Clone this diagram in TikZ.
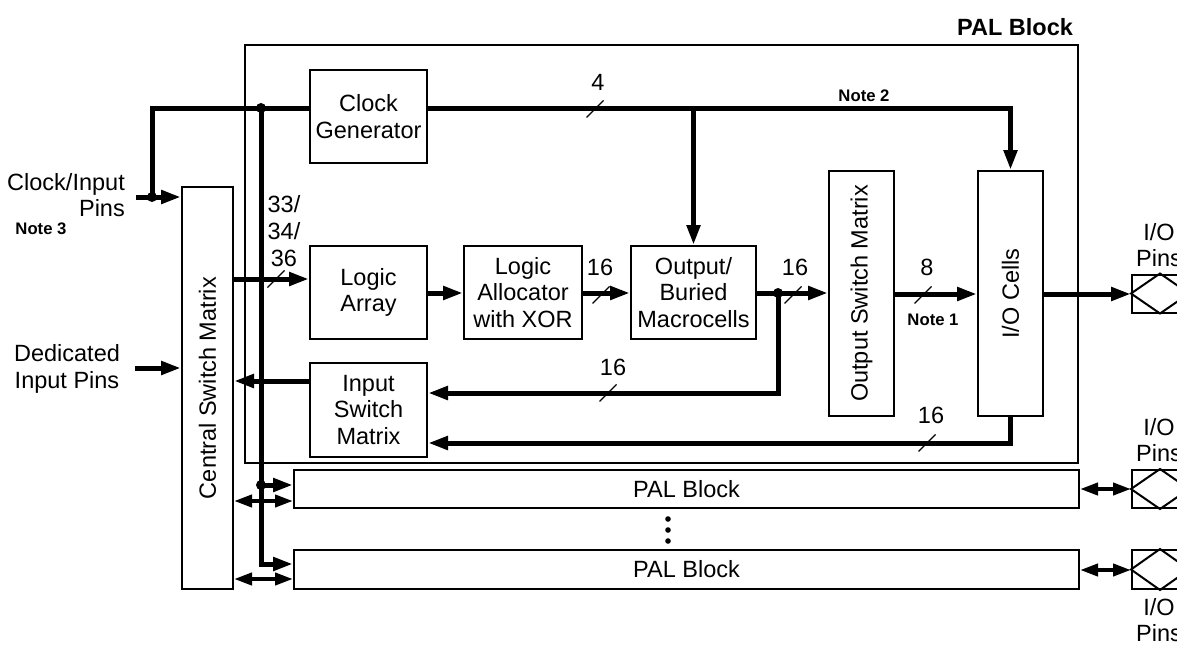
\documentclass[tikz,border=0pt]{standalone}
\usepackage{fontspec}
\setmainfont{Liberation Sans}
\usetikzlibrary{arrows.meta}
\newcommand\mainfnt{\fontsize{23.5}{26.7}\selectfont}
\newcommand\notefnt{\fontsize{16.7}{19}\selectfont\bfseries}
\tikzset{
 box/.style={draw, line width=2pt, inner sep=0pt, align=center, font=\mainfnt},
 bus/.style={line width=5pt},
 dbus/.style={line width=4pt},
 arr/.style={-{Triangle[length=20pt,width=13pt]}},
 darr/.style={{Triangle[length=18pt,width=12pt]}-{Triangle[length=18pt,width=12pt]}},
 slash/.style={line width=1.2pt},
 lbl/.style={font=\mainfnt, inner sep=0pt, align=center},
 note/.style={font=\notefnt, inner sep=0pt},
}
\begin{document}
\begin{tikzpicture}[x=1pt,y=-1pt]
\clip (0,0) rectangle (1177,645);
% outer PAL block
\node[draw, line width=2pt, minimum width=833pt, minimum height=418pt, inner sep=0pt] (pal) at (661.5,254) {};
\node[lbl, font=\mainfnt\bfseries] (paltitle) at (1015,27) {PAL Block};
% boxes
\node[box, minimum width=117pt, minimum height=93pt] (clk) at (368.5,116.5) {Clock\\Generator};
\node[box, minimum width=51pt, minimum height=402pt] (csm) at (207.5,388) {\rotatebox{90}{Central Switch Matrix}};
\node[box, minimum width=117pt, minimum height=93pt] (la) at (368.5,292.5) {Logic\\Array};
\node[box, minimum width=118pt, minimum height=93pt] (lal) at (523,292.5) {Logic\\Allocator\\with XOR};
\node[box, minimum width=125pt, minimum height=93pt] (obm) at (693.5,292.5) {Output/\\Buried\\Macrocells};
\node[box, minimum width=65pt, minimum height=245pt] (osm) at (861.5,293.5) {\rotatebox{90}{Output Switch Matrix}};
\node[box, minimum width=65pt, minimum height=245pt] (ioc) at (1010.5,293.5) {\rotatebox{90}{I/O Cells}};
\node[box, minimum width=117pt, minimum height=94pt] (ism) at (368.5,410) {Input\\Switch\\Matrix};
\node[box, minimum width=785pt, minimum height=38pt] (pal1) at (686.5,489) {PAL Block};
\node[box, minimum width=785pt, minimum height=39pt] (pal2) at (686.5,569.5) {PAL Block};
% pins
\node[box, minimum width=56pt, minimum height=38pt] (pin1) at (1160,293.5) {};
\node[box, minimum width=56pt, minimum height=38pt] (pin2) at (1160,489) {};
\node[box, minimum width=56pt, minimum height=39pt] (pin3) at (1160,569.5) {};
\foreach \p in {pin1,pin2,pin3}
  \draw[line width=2pt] (\p.west) -- (\p.north) -- (\p.east) -- (\p.south) -- cycle;
% level coordinates
\coordinate (y279) at (0,279);
\coordinate (y293) at (0,293);
\coordinate (y294) at (0,294);
\coordinate (y381) at (0,381);
\coordinate (y443) at (0,443);
\coordinate (y501) at (0,501);
\coordinate (y579) at (0,579);
\coordinate (y489) at (0,489);
\coordinate (y570) at (0,570);
% clock / input pins
\coordinate (ci) at (136,197);
\coordinate (j1) at (152,197);
\coordinate (jt) at (261,108);
\coordinate (j2) at (261,485);
\coordinate (jb) at (261,564);
\draw[bus,arr] (ci) -- (ci -| csm.west);
\draw[bus] (j1) |- (jt) -- (jt -| clk.west);
\draw[bus,arr] (jt) -- (jb) -- (jb -| pal2.west);
\draw[bus,arr] (j2) -- (j2 -| pal1.west);
% clock generator outputs
\coordinate (ck) at (1010.5,108);
\coordinate (cb) at (693.5,108);
\draw[bus,arr] (ck -| clk.east) -- (ck) -- (ioc.north);
\draw[bus,arr] (cb) -- (obm.north);
\draw[slash] (595-8.5,109+8.5) -- (595+8.5,109-8.5);
\node[lbl] (l4) at (598,82) {4};
\node[note] (n2) at (864,96) {Note 2};
% dedicated inputs
\coordinate (di) at (135,368);
\draw[bus,arr] (di) -- (di -| csm.west);
% main chain
\draw[bus,arr] (csm.east |- y279) -- (la.west |- y279);
\draw[slash] (276-8.5,279+8.5) -- (276+8.5,279-8.5);
\node[lbl] (l33) at (284,231) {33/\\34/\\36};
\draw[bus,arr] (la.east |- y293) -- (lal.west |- y293);
\draw[bus,arr] (lal.east |- y293) -- (obm.west |- y293);
\draw[slash] (601-8.5,295+8.5) -- (601+8.5,295-8.5);
\node[lbl] (l16a) at (600,267) {16};
\coordinate (j3) at (778,293);
\coordinate (j3b) at (778,393);
\draw[bus,arr] (obm.east |- y293) -- (osm.west |- y293);
\draw[slash] (793-8.5,295+8.5) -- (793+8.5,295-8.5);
\node[lbl] (l16b) at (795,267) {16};
\draw[bus,arr] (j3) -- (j3b) -- (j3b -| ism.east);
\draw[slash] (608-8.5,393+8.5) -- (608+8.5,393-8.5);
\node[lbl] (l16c) at (613,367) {16};
\draw[bus,arr] (osm.east |- y294) -- (ioc.west |- y294);
\draw[slash] (923-8.5,295+8.5) -- (923+8.5,295-8.5);
\node[lbl] (l8) at (927,267) {8};
\node[note] (n1) at (933,320) {Note 1};
\draw[bus,arr] (ioc.east |- y294) -- (pin1.west |- y294);
\draw[bus,arr] (ioc.south) -- (ioc.south |- y443) -- (ism.east |- y443);
\draw[slash] (927-8.5,443+8.5) -- (927+8.5,443-8.5);
\node[lbl] (l16d) at (931,415) {16};
\draw[bus,arr] (ism.west |- y381) -- (csm.east |- y381);
% bidirectional
\draw[dbus,darr] (csm.east |- y501) -- (pal1.west |- y501);
\draw[dbus,darr] (csm.east |- y579) -- (pal2.west |- y579);
\draw[dbus,darr] (pal1.east |- y489) -- (pin2.west |- y489);
\draw[dbus,darr] (pal2.east |- y570) -- (pin3.west |- y570);
% junction dots
\fill (j1) circle (5);
\fill (jt) circle (5);
\fill (j2) circle (5);
\fill (j3) circle (5);
% vertical ellipsis
\fill (668,519) circle (2.8);
\fill (668,530) circle (2.8);
\fill (668,541) circle (2.8);
% texts
\node[lbl, align=right, anchor=east] (cip) at (125,195) {Clock/Input\\Pins};
\node[note] (n3) at (41,229) {Note 3};
\node[lbl] (dip) at (67,369) {Dedicated\\Input Pins};
\node[lbl] (iop1) at (1159,245) {I/O\\Pins};
\node[lbl] (iop2) at (1159,440) {I/O\\Pins};
\node[lbl] (iop3) at (1159,620) {I/O\\Pins};
\end{tikzpicture}
\end{document}
